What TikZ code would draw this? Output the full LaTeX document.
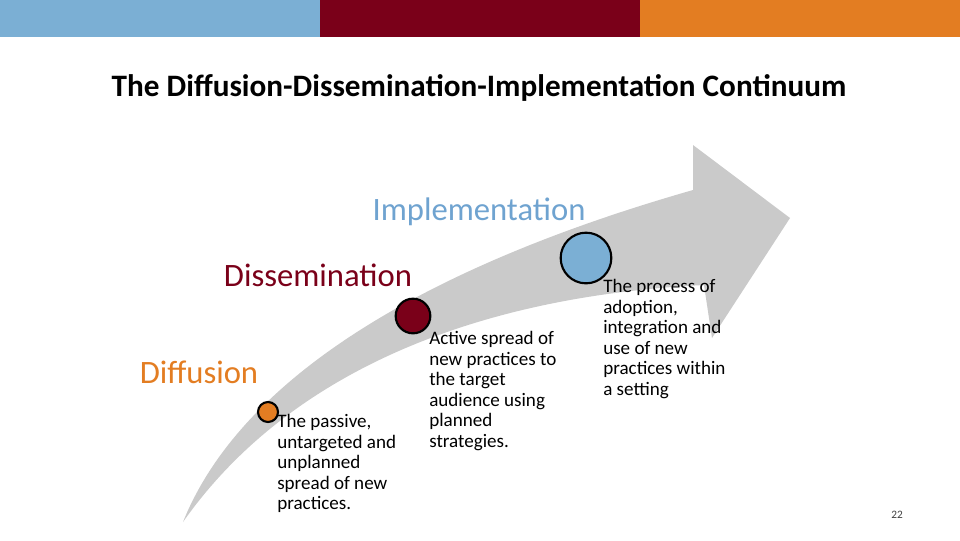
\documentclass[tikz,border=0pt]{standalone}
\usepackage{fontspec}
\setmainfont{Carlito}
\definecolor{cblue}{HTML}{7BAFD4}
\definecolor{cred}{HTML}{7A0019}
\definecolor{corange}{HTML}{E37D22}
\definecolor{cgrey}{HTML}{CACACA}
\definecolor{lblue}{HTML}{6FA3D0}
\begin{document}
\begin{tikzpicture}[x=0.75pt,y=-0.75pt,
  bodytext/.style={anchor=north west,align=left,inner sep=0pt,font=\fontsize{14.3}{15.4}\selectfont},
  dot/.style={circle,draw=black,line width=1.6pt,inner sep=0pt},
  stage/.style={inner sep=0pt,font=\fontsize{24.5}{28}\selectfont}]
\useasboundingbox (0,0) rectangle (960,540);
\fill[cblue] (0,0) rectangle (320,37);
\fill[cred] (320,0) rectangle (640,37);
\fill[corange] (640,0) rectangle (960,37);
\node[inner sep=0pt,font=\bfseries\fontsize{23.4}{26}\selectfont] (title) at (479,88) {The Diffusion-Dissemination-Implementation Continuum};
\fill[cgrey] (183,522) .. controls (240,380) and (420,268) .. (693,190)
  -- (693,145) -- (790,218) -- (712,338) -- (704,285)
  .. controls (480,296) and (290,370) .. (183,522) -- cycle;
\node[stage,text=lblue] (impl) at (479,212) {Implementation};
\node[stage,text=cred] (diss) at (318,275) {Dissemination};
\node[stage,text=corange] (diff) at (199,372) {Diffusion};
\node[dot,fill=corange,minimum size=15] (d1) at (268,412) {};
\node[dot,fill=cred,minimum size=26] (d2) at (413,316) {};
\node[dot,fill=cblue,minimum size=38] (d3) at (586,258) {};
\node[bodytext] (t1) at (277,414) {The passive,\\untargeted and\\unplanned\\spread of new\\practices.};
\node[bodytext] (t2) at (429,331) {Active spread of\\new practices to\\the target\\audience using\\planned\\strategies.};
\node[bodytext] (t3) at (603,279) {The process of\\adoption,\\integration and\\use of new\\practices within\\a setting};
\node[inner sep=0pt,font=\fontsize{8.5}{9}\selectfont,text=darkgray] (pg) at (897,515) {22};
\end{tikzpicture}
\end{document}
